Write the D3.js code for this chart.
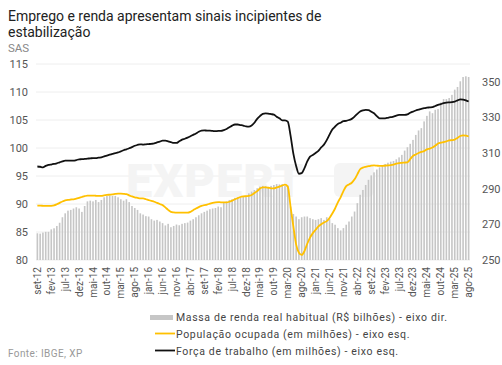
<!DOCTYPE html>
<html><head><meta charset="utf-8">
<script src="https://cdn.jsdelivr.net/npm/d3@7/dist/d3.min.js"></script>
<style>
html,body{margin:0;padding:0;background:#fff;}
svg{display:block;font-family:Roboto,"Noto Sans",sans-serif;}
</style></head>
<body><svg id="c" width="502" height="365"></svg>
<script>
const monthNames = ["jan","fev","mar","abr","mai","jun","jul","ago","set","out","nov","dez"];
// categories: monthly, set-12 .. ago-25
const categories = [];
for (let k = 0; k < 156; k++) { const m = (8 + k) % 12, y = 12 + Math.floor((8 + k) / 12); categories.push(monthNames[m] + "-" + y); }
const tickLabels = ["set-12","fev-13","jul-13","dez-13","mai-14","out-14","mar-15","ago-15","jan-16","jun-16","nov-16","abr-17","set-17","fev-18","jul-18","dez-18","mai-19","out-19","mar-20","ago-20","jan-21","jun-21","nov-21","abr-22","set-22","fev-23","jul-23","dez-23","mai-24","out-24","mar-25","ago-25"];
const leftTicks = [80,85,90,95,100,105,110,115];
const rightTicks = [250,270,290,310,330,350];

// Massa de renda real habitual (R$ bilhões) - eixo dir.
const massa = [265.0,264.8,265.4,265.8,265.8,267.2,267.8,269.1,270.9,274.0,276.2,277.7,278.1,278.9,279.6,278.9,277.0,280.3,282.9,283.3,
282.9,283.7,282.5,283.7,285.2,286.0,286.3,286.0,286.0,285.2,284.1,283.3,284.1,282.5,280.3,279.2,278.1,276.2,275.5,274.6,
274.4,272.9,272.1,272.5,271.6,270.7,269.4,270.3,268.4,269.1,269.9,269.5,270.3,270.7,271.0,272.1,272.9,274.0,275.1,276.2,
277.0,277.7,278.5,278.9,279.2,280.0,279.6,282.2,282.8,283.7,284.1,284.9,285.2,285.2,285.6,286.0,287.4,288.4,289.3,290.3,
291.2,291.6,291.4,291.0,291.6,292.1,292.6,292.4,292.6,291.5,291.8,280.0,275.8,274.4,272.9,274.0,274.4,274.4,273.5,272.9,
272.5,272.9,273.5,272.5,274.0,272.9,270.7,269.8,267.9,266.6,267.9,269.8,271.6,274.4,277.2,281.9,286.6,289.3,292.1,295.0,
297.5,299.2,300.8,302.0,302.8,303.9,304.6,305.2,305.6,306.5,307.6,309.0,311.4,313.3,315.2,317.4,320.2,322.7,324.0,327.8,
330.9,333.4,332.4,334.3,334.7,338.4,340.3,340.3,340.9,342.7,345.6,347.1,350.3,352.7,353.1,352.7];

// População ocupada (em milhões) - eixo esq.
const ocupada = [89.7,89.7,89.68,89.65,89.65,89.67,89.75,89.95,90.2,90.45,90.65,90.75,90.8,90.83,90.95,91.1,91.25,91.4,91.5,91.5,
91.5,91.47,91.45,91.45,91.55,91.62,91.67,91.72,91.8,91.85,91.85,91.82,91.75,91.55,91.35,91.2,91.1,91.0,91.0,90.85,
90.7,90.55,90.4,90.2,90.0,89.8,89.4,88.95,88.6,88.5,88.45,88.45,88.45,88.45,88.45,88.6,88.9,89.2,89.45,89.65,
89.8,89.9,90.05,90.2,90.3,90.35,90.3,90.3,90.3,90.4,90.6,90.85,91.05,91.25,91.35,91.4,91.45,91.6,91.95,92.3,
92.75,92.95,92.98,92.9,92.8,92.78,92.95,93.1,93.3,93.45,93.1,89.5,86.0,82.8,81.3,80.9,81.6,82.9,84.0,84.8,
85.4,86.0,86.4,86.7,86.95,87.5,88.3,89.2,90.3,91.2,92.3,93.2,93.5,93.8,94.4,95.3,96.2,96.5,96.65,96.75,
96.85,96.9,96.85,96.8,96.8,96.85,96.9,96.95,97.05,97.2,97.3,97.35,97.4,97.45,98.0,98.6,98.85,99.1,99.3,99.45,
99.75,99.9,100.1,100.4,100.8,100.95,101.05,101.2,101.35,101.4,101.5,101.8,102.15,102.25,102.2,102.05];

// Força de trabalho (em milhões) - eixo esq.
const forca = [96.7,96.65,96.55,96.8,96.97,97.05,97.15,97.26,97.45,97.6,97.74,97.74,97.74,97.74,97.85,97.98,98.0,98.05,98.1,98.15,
98.2,98.2,98.28,98.33,98.5,98.65,98.8,98.95,99.1,99.2,99.4,99.6,99.77,99.95,100.15,100.4,100.55,100.66,100.6,100.65,
100.7,100.75,100.83,101.0,101.15,101.3,101.3,101.2,101.05,100.9,100.9,101.2,101.5,101.65,101.85,102.1,102.35,102.6,102.9,103.1,
103.15,103.1,103.1,103.05,103.0,103.05,103.05,103.2,103.4,103.7,104.0,104.2,104.2,104.1,104.0,103.85,103.8,104.0,104.5,105.2,
105.7,106.1,106.2,106.15,106.05,105.95,105.6,105.3,104.95,104.95,104.7,102.2,99.0,96.8,95.4,95.5,96.4,97.6,98.45,98.75,
99.1,99.5,100.1,100.6,101.4,102.4,103.3,103.8,104.3,104.5,104.8,104.85,105.0,105.2,105.6,106.1,106.5,106.7,106.8,106.75,
106.5,106.2,105.7,105.3,105.3,105.3,105.4,105.5,105.6,105.8,105.9,105.9,105.9,106.0,106.3,106.5,106.7,106.85,107.0,107.1,
107.2,107.25,107.3,107.5,107.7,107.85,108.0,108.1,108.15,108.2,108.3,108.5,108.7,108.65,108.5,108.3];

const legendLabels = ["Massa de renda real habitual (R$ bilhões) - eixo dir.","População ocupada (em milhões) - eixo esq.","Força de trabalho (em milhões) - eixo esq."];

const svg = d3.select("#c");
const L = 36, R = 470, T = 64, B = 260;
const idx = d3.range(categories.length);
const x = d3.scaleBand().domain(idx).range([L, R]).paddingInner(0.42).paddingOuter(0.2);
const yL = d3.scaleLinear().domain([80, 115]).range([B, T]);
const yR = d3.scaleLinear().domain([250, 360]).range([B, T]);
const cx = i => x(i) + x.bandwidth() / 2;

// title
svg.append("text").attr("x", 8).attr("y", 21).attr("font-size", 14).attr("fill", "#222").text("Emprego e renda apresentam sinais incipientes de");
svg.append("text").attr("x", 8).attr("y", 37).attr("font-size", 14).attr("fill", "#222").text("estabilização");
svg.append("text").attr("x", 8).attr("y", 52).attr("font-size", 11.5).attr("fill", "#888").text("SAS");

// gridlines
svg.append("g").selectAll("line").data(leftTicks).join("line")
  .attr("x1", L).attr("x2", R).attr("y1", d => yL(d)).attr("y2", d => yL(d))
  .attr("stroke", "#eeeeee").attr("stroke-width", 1);

// watermark
svg.append("text").attr("x", 126).attr("y", 197).attr("font-size", 47).attr("font-weight", 900)
  .attr("fill", "#f4f4f4").attr("letter-spacing", 1).text("EXPERT");
svg.append("rect").attr("x", 334).attr("y", 163).attr("width", 40).attr("height", 34).attr("rx", 6).attr("fill", "#f4f4f4");

// bars
svg.append("g").selectAll("rect").data(massa).join("rect")
  .attr("x", (d, i) => x(i)).attr("width", x.bandwidth())
  .attr("y", d => yR(d)).attr("height", d => B - yR(d))
  .attr("fill", "#c6c6c6");

// lines
const line = d3.line().x((d, i) => cx(i)).y(d => yL(d)).curve(d3.curveMonotoneX);
svg.append("path").datum(ocupada).attr("d", line).attr("fill", "none").attr("stroke", "#ffc000").attr("stroke-width", 1.8);
svg.append("path").datum(forca).attr("d", line).attr("fill", "none").attr("stroke", "#111").attr("stroke-width", 1.8);

// left axis
const axL = d3.axisLeft(yL).tickValues(leftTicks).tickSize(0).tickPadding(0);
const gL = svg.append("g").attr("transform", `translate(28,0)`).call(axL);
gL.select(".domain").remove();
gL.selectAll("text").attr("font-size", 11).attr("fill", "#555").attr("font-family", "Roboto");

// right axis
const axR = d3.axisRight(yR).tickValues(rightTicks).tickSize(0).tickPadding(0);
const gR = svg.append("g").attr("transform", `translate(482,0)`).call(axR);
gR.select(".domain").remove();
gR.selectAll("text").attr("font-size", 11).attr("fill", "#555").attr("font-family", "Roboto");

// x axis labels
const tickIdx = tickLabels.map(t => categories.indexOf(t));
const axX = d3.axisBottom(x).tickValues(tickIdx).tickFormat(i => categories[i]).tickSize(0).tickPadding(0);
const gX = svg.append("g").attr("transform", `translate(0,${B})`).call(axX);
gX.select(".domain").remove();
gX.selectAll("text").attr("font-size", 10).attr("fill", "#555").attr("font-family", "Roboto")
  .attr("text-anchor", "end").attr("dy", "0.35em").attr("transform", "translate(0,7) rotate(-90)").attr("x", 0).attr("y", 0);

// legend
const lg = svg.append("g").attr("font-size", 10.5).attr("fill", "#444").attr("letter-spacing", 0.65);
lg.append("rect").attr("x", 150).attr("y", 315).attr("width", 23).attr("height", 5).attr("fill", "#c6c6c6");
lg.append("line").attr("x1", 155).attr("x2", 175).attr("y1", 333.5).attr("y2", 333.5).attr("stroke", "#ffc000").attr("stroke-width", 1.8);
lg.append("line").attr("x1", 155).attr("x2", 175).attr("y1", 350.5).attr("y2", 350.5).attr("stroke", "#111").attr("stroke-width", 1.8);
lg.selectAll("text").data(legendLabels).join("text")
  .attr("x", 176).attr("y", (d, i) => 321 + i * 17).attr("fill", "#444").text(d => d);

svg.append("text").attr("x", 8).attr("y", 357).attr("font-size", 10).attr("letter-spacing", 0.4).attr("fill", "#999").text("Fonte: IBGE, XP");
</script></body></html>
